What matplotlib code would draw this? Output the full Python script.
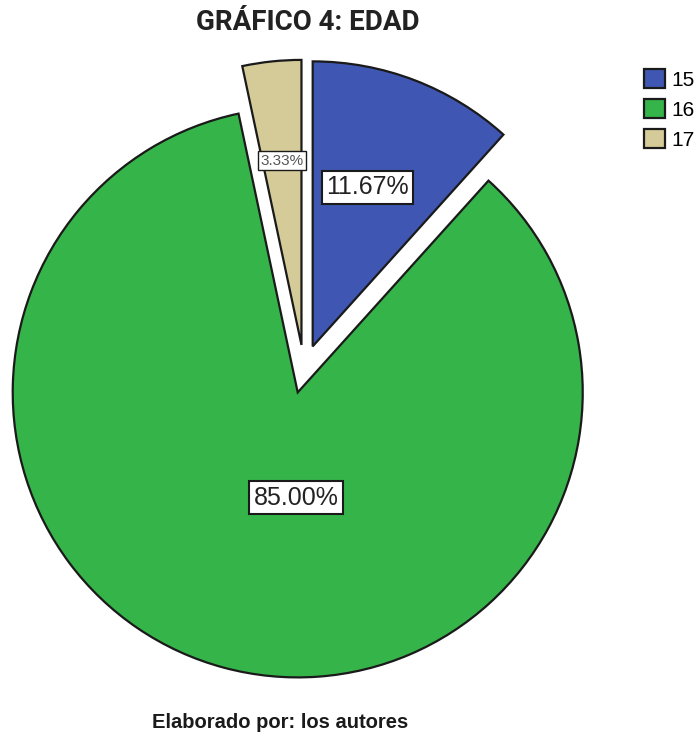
import math
import matplotlib
matplotlib.use("Agg")
import matplotlib.pyplot as plt

# edades de los encuestados
edades = ['15', '16', '17']
porcentajes = [11.67, 85.00, 3.33]
colores = ['#3F57B2', '#35B44A', '#D5CB98']

# ajuste de etiquetas dentro de cada porcion
dist_etiqueta = [0.59, 0.37, 0.65]
giro_etiqueta = [2, 14, 0]
tam_etiqueta = [18, 18, 11]
color_texto = ['#222222', '#222222', '#555555']

W, H = 697, 736
R = 285.0
cx, cy = 304, 369

fig = plt.figure(figsize=(W / 100, H / 100), dpi=100)
ax = fig.add_axes([0, 0, 1, 1])

wedges, _ = ax.pie(porcentajes, colors=colores, explode=[0.085] * 3,
                   startangle=90, counterclock=False,
                   wedgeprops=dict(edgecolor='#1a1a1a', linewidth=1.6))

for w, val, d, g, fs, tc in zip(wedges, porcentajes, dist_etiqueta, giro_etiqueta,
                                tam_etiqueta, color_texto):
    mid = math.radians((w.theta1 + w.theta2) / 2 + g)
    x0, y0 = w.center
    ax.text(x0 + d * math.cos(mid), y0 + d * math.sin(mid), '%.2f%%' % val,
            ha='center', va='center', fontsize=fs, color=tc,
            family='Liberation Sans',
            bbox=dict(boxstyle='square,pad=0.18', fc='white', ec='#1a1a1a',
                      lw=1.5 if fs > 12 else 1.0))

ax.set_xlim(-cx / R, (W - cx) / R)
ax.set_ylim(-(H - cy) / R, cy / R)
ax.set_aspect('equal')
ax.axis('off')

ax.legend(wedges, edades, loc='upper left', frameon=False, borderpad=0,
          bbox_to_anchor=(634 / W, 1 - 59 / H), bbox_transform=fig.transFigure,
          prop=dict(family='Liberation Sans', size=15),
          handlelength=1.0, handleheight=1.0, handletextpad=0.3,
          labelspacing=0.45)

fig.text(308 / W, 1 - 23 / H, 'GRÁFICO 4: EDAD', ha='center', va='center',
         fontsize=20, fontweight='bold', family='Roboto', color='#222222')
fig.text(280 / W, 1 - 722 / H, 'Elaborado por: los autores', ha='center',
         va='center', fontsize=14.5, fontweight='bold', family='Liberation Sans',
         color='#1a1a1a')

fig.savefig('out.png', dpi=100)
